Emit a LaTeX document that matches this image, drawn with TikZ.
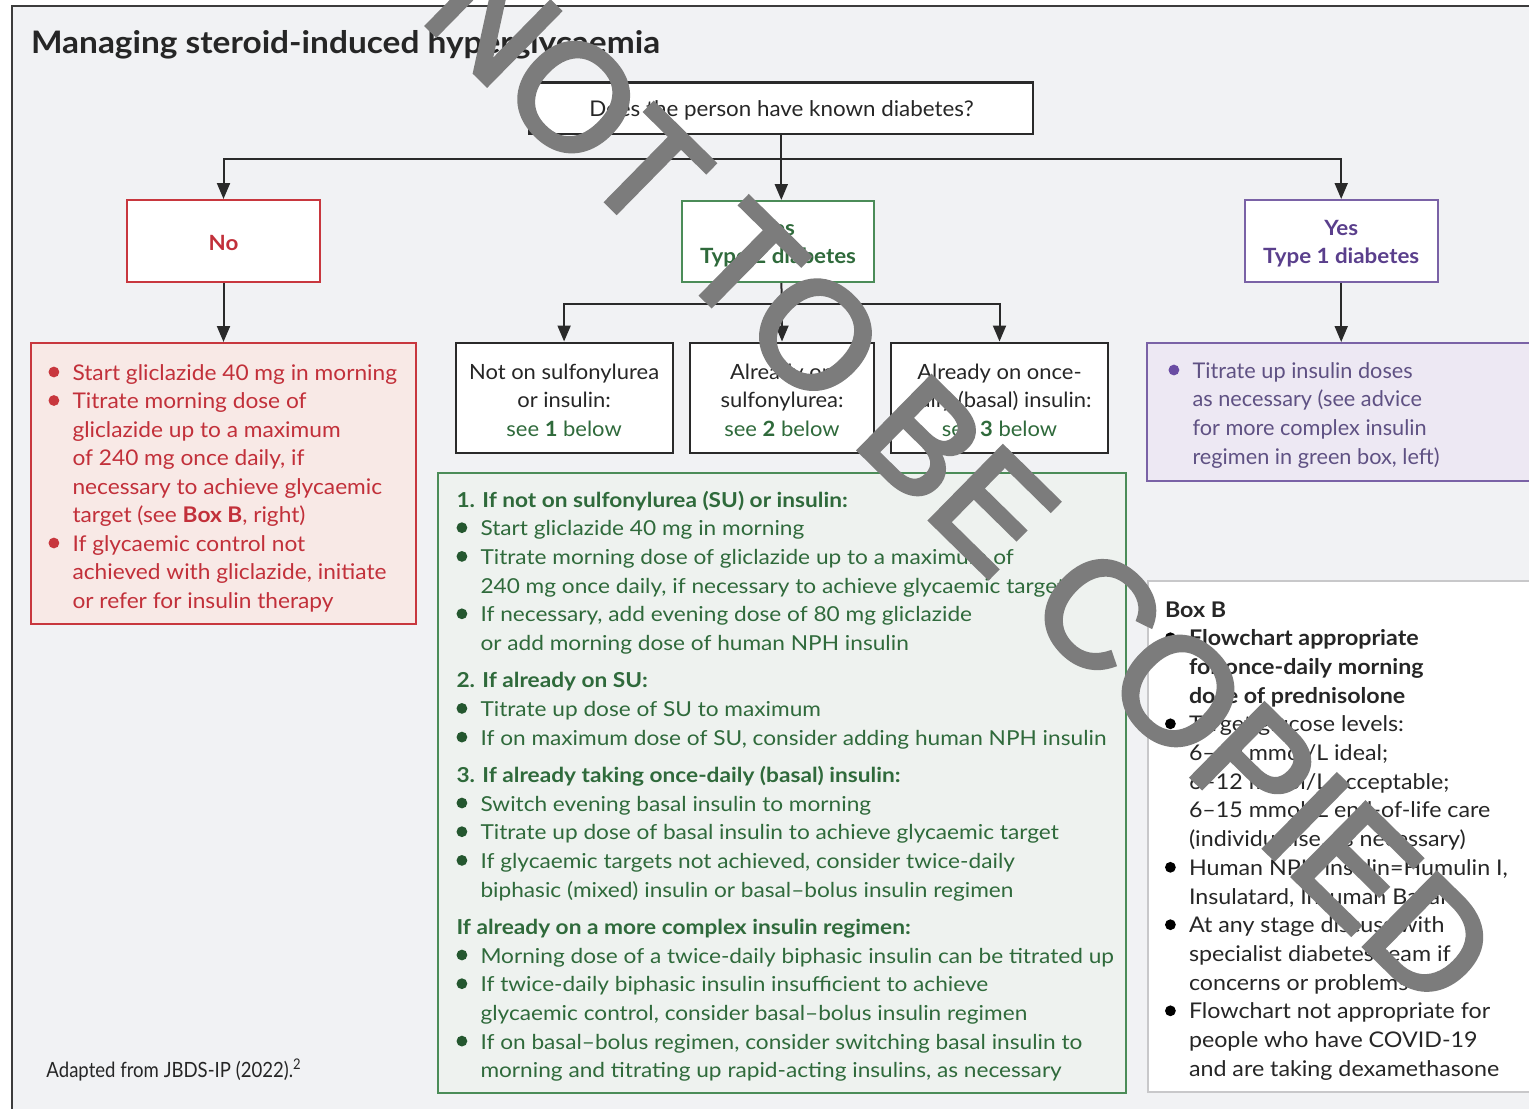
\documentclass[tikz,border=0pt]{standalone}
\usepackage{fontspec}
\setmainfont{Lato}
\newfontfamily\wmfont[FakeBold=3]{Liberation Sans}
\usepackage{graphicx}
\usetikzlibrary{arrows.meta}

\definecolor{bgc}{HTML}{F1F2F4}
\definecolor{framec}{HTML}{3C3C3C}
\definecolor{darkc}{HTML}{2A2A2A}
\definecolor{textc}{HTML}{262626}
\definecolor{redc}{HTML}{C8373E}
\definecolor{redtxt}{HTML}{C2303A}
\definecolor{redfill}{HTML}{F8E9E6}
\definecolor{greenc}{HTML}{4B8C58}
\definecolor{greentxt}{HTML}{2F6A3B}
\definecolor{greenfill}{HTML}{EEF2EF}
\definecolor{greenbul}{HTML}{24572F}
\definecolor{purc}{HTML}{7A62A6}
\definecolor{purtxt}{HTML}{5F5183}
\definecolor{purhead}{HTML}{5A3F8C}
\definecolor{purfill}{HTML}{EDE8F3}
\definecolor{purbul}{HTML}{6A4CA3}
\definecolor{greyb}{HTML}{C8C8CA}
\definecolor{wmc}{HTML}{7C7C7C}

\newlength\fitlen
\newcommand\fitto[2]{\settowidth\fitlen{#2}\edef\fitf{\fpeval{(#1)/(\the\fitlen)}}}
\newcommand\X[1]{\scalebox{\fitf}[1]{#1}}
\newcommand\fitx[2]{\fitto{#1}{#2}\X{#2}}
\newcommand\bul[1]{\makebox[12pt][l]{\tikz[baseline=0pt]\fill[#1] (2.7pt,4pt) circle[radius=2.7pt];}}

\begin{document}
\begin{tikzpicture}[x=0.5pt,y=-0.5pt,
  box/.style={draw, line width=1pt, inner sep=0pt, fill=white},
  txt/.style={inner sep=0pt, outer sep=0pt},
  conn/.style={draw=darkc, line width=1pt, -{Triangle[length=8pt,width=6.5pt]}},
  link/.style={draw=darkc, line width=1pt}]
\useasboundingbox (0,0) rectangle (1529,1108);
\clip (0,0) rectangle (1529,1108);
\fill[white] (0,0) rectangle (1529,1108);
\draw[fill=bgc, draw=framec, line width=1pt] (12,6) rectangle (1560,1130);

% title
\node[txt, anchor=base west, font=\bfseries\fontsize{15.5}{18}\selectfont, text=textc] (title) at (31,53)
  {\fitx{314.5pt}{Managing steroid-induced hyperglycaemia}};

% question
\node[box, draw=darkc, line width=1.2pt, minimum width=251.75pt, minimum height=25.85pt] (q) at (781.3,108.2) {};
\node[txt, anchor=base, font=\fontsize{10.8}{13}\selectfont, text=textc] (qt) at (781.5,116.7)
  {\fitx{192.2pt}{Does the person have known diabetes?}};

% level 1 boxes
\node[box, draw=redc, minimum width=96.5pt, minimum height=41pt] (no) at (223.5,241) {};
\node[txt, anchor=base, font=\bfseries\fontsize{10.5}{14}\selectfont, text=redtxt] (not) at (223.5,250)
  {\fitto{78pt}{Type 1 diabetes}\X{No}};

\node[box, draw=greenc, minimum width=96.4pt, minimum height=40.5pt] (t2) at (778,241.5) {};
\node[txt, anchor=base, font=\bfseries\fontsize{10.5}{14}\selectfont, text=greentxt] (t2t) at (778,235)
  {\fitto{78pt}{Type 2 diabetes}\begin{tabular}[t]{@{}c@{}}\X{Yes}\\\X{Type 2 diabetes}\end{tabular}};

\node[box, draw=purc, minimum width=96.5pt, minimum height=41pt] (t1) at (1341.2,241) {};
\node[txt, anchor=base, font=\bfseries\fontsize{10.5}{14}\selectfont, text=purhead] (t1t) at (1341.2,235)
  {\fitto{78pt}{Type 1 diabetes}\begin{tabular}[t]{@{}c@{}}\X{Yes}\\\X{Type 1 diabetes}\end{tabular}};

% red box
\node[box, draw=redc, fill=redfill, minimum width=192.5pt, minimum height=140.5pt] (red) at (223.5,483.5) {};
\node[txt, anchor=base west, font=\fontsize{10.8}{14.25}\selectfont, text=redtxt] (redt) at (48.5,380)
  {\fitto{162.3pt}{Start gliclazide 40 mg in morning}%
  \begin{tabular}[t]{@{}l@{}l@{}}
  \bul{redc}&\X{Start gliclazide 40 mg in morning}\\
  \bul{redc}&\X{Titrate morning dose of}\\
  &\X{gliclazide up to a maximum}\\
  &\X{of 240 mg once daily, if}\\
  &\X{necessary to achieve glycaemic}\\
  &\X{target (see \textbf{Box B}, right)}\\
  \bul{redc}&\X{If glycaemic control not}\\
  &\X{achieved with gliclazide, initiate}\\
  &\X{or refer for insulin therapy}
  \end{tabular}};

% type 2 sub boxes
\node[box, draw=darkc, minimum width=108.4pt, minimum height=55pt] (s1) at (564.1,397.5) {};
\node[box, draw=darkc, minimum width=91.6pt, minimum height=55pt] (s2) at (782,397.5) {};
\node[box, draw=darkc, minimum width=108.5pt, minimum height=55pt] (s3) at (999.5,397.5) {};
\node[txt, anchor=base, font=\fontsize{10.5}{14.25}\selectfont, text=textc] (s1t) at (564.1,379)
  {\fitto{95pt}{Not on sulfonylurea}\begin{tabular}[t]{@{}c@{}}\X{Not on sulfonylurea}\\\X{or insulin:}\\\X{\color{greentxt}see \textbf{1} below}\end{tabular}};
\node[txt, anchor=base, font=\fontsize{10.5}{14.25}\selectfont, text=textc] (s2t) at (782,379)
  {\fitto{95pt}{Not on sulfonylurea}\begin{tabular}[t]{@{}c@{}}\X{Already on}\\\X{sulfonylurea:}\\\X{\color{greentxt}see \textbf{2} below}\end{tabular}};
\node[txt, anchor=base, font=\fontsize{10.5}{14.25}\selectfont, text=textc] (s3t) at (999.5,379)
  {\fitto{95pt}{Not on sulfonylurea}\begin{tabular}[t]{@{}c@{}}\X{Already on once-}\\\X{daily (basal) insulin:}\\\X{\color{greentxt}see \textbf{3} below}\end{tabular}};

% green box
\node[box, draw=greenc, fill=greenfill, minimum width=344pt, minimum height=309.8pt] (green) at (782,783.2) {};
\node[txt, anchor=base west, font=\fontsize{10.3}{14.35}\selectfont, text=greentxt] (greent) at (456.5,507)
  {\fitto{313pt}{If on maximum dose of SU, consider adding human NPH insulin}%
  \begin{tabular}[t]{@{}l@{}l@{}}
  \multicolumn{2}{@{}l@{}}{\X{\bfseries 1. If not on sulfonylurea (SU) or insulin:}}\\
  \bul{greenbul}&\X{Start gliclazide 40 mg in morning}\\
  \bul{greenbul}&\X{Titrate morning dose of gliclazide up to a maximum of}\\
  &\X{240 mg once daily, if necessary to achieve glycaemic target}\\
  \bul{greenbul}&\X{If necessary, add evening dose of 80 mg gliclazide}\\
  &\X{or add morning dose of human NPH insulin}\\[4.25pt]
  \multicolumn{2}{@{}l@{}}{\X{\bfseries 2. If already on SU:}}\\
  \bul{greenbul}&\X{Titrate up dose of SU to maximum}\\
  \bul{greenbul}&\X{If on maximum dose of SU, consider adding human NPH insulin}\\[4.25pt]
  \multicolumn{2}{@{}l@{}}{\X{\bfseries 3. If already taking once-daily (basal) insulin:}}\\
  \bul{greenbul}&\X{Switch evening basal insulin to morning}\\
  \bul{greenbul}&\X{Titrate up dose of basal insulin to achieve glycaemic target}\\
  \bul{greenbul}&\X{If glycaemic targets not achieved, consider twice-daily}\\
  &\X{biphasic (mixed) insulin or basal–bolus insulin regimen}\\[4.25pt]
  \multicolumn{2}{@{}l@{}}{\X{\bfseries If already on a more complex insulin regimen:}}\\
  \bul{greenbul}&\X{Morning dose of a twice-daily biphasic insulin can be titrated up}\\
  \bul{greenbul}&\X{If twice-daily biphasic insulin insufficient to achieve}\\
  &\X{glycaemic control, consider basal–bolus insulin regimen}\\
  \bul{greenbul}&\X{If on basal–bolus regimen, consider switching basal insulin to}\\
  &\X{morning and titrating up rapid-acting insulins, as necessary}
  \end{tabular}};

% purple box
\node[box, draw=purc, fill=purfill, minimum width=199pt, minimum height=69pt] (pur) at (1346,412) {};
\node[txt, anchor=base west, font=\fontsize{10.8}{14.35}\selectfont, text=purtxt] (purt) at (1168.5,378)
  {\fitto{123.5pt}{regimen in green box, left)}%
  \begin{tabular}[t]{@{}l@{}l@{}}
  \bul{purbul}&\X{Titrate up insulin doses}\\
  &\X{as necessary (see advice}\\
  &\X{for more complex insulin}\\
  &\X{regimen in green box, left)}
  \end{tabular}};

% box B
\node[box, draw=greyb, line width=0.8pt, minimum width=198.5pt, minimum height=255.5pt] (boxb) at (1346.5,836.5) {};
\node[txt, anchor=base west, font=\fontsize{10.8}{14.35}\selectfont, text=textc] (boxbt) at (1165,617)
  {\fitto{159.4pt}{Human NPH insulin=Humulin I,}%
  \begin{tabular}[t]{@{}l@{}l@{}}
  \multicolumn{2}{@{}l@{}}{\X{\bfseries Box B}}\\
  \bul{black}&\X{\bfseries Flowchart appropriate}\\
  &\X{\bfseries for once-daily morning}\\
  &\X{\bfseries dose of prednisolone}\\
  \bul{black}&\X{Target glucose levels:}\\
  &\X{6–10 mmol/L ideal;}\\
  &\X{6–12 mmol/L acceptable;}\\
  &\X{6–15 mmol/L end-of-life care}\\
  &\X{(individualise, as necessary)}\\
  \bul{black}&\X{Human NPH insulin=Humulin I,}\\
  &\X{Insulatard, Insuman Basal}\\
  \bul{black}&\X{At any stage discuss with}\\
  &\X{specialist diabetes team if}\\
  &\X{concerns or problems}\\
  \bul{black}&\X{Flowchart not appropriate for}\\
  &\X{people who have COVID-19}\\
  &\X{and are taking dexamethasone}
  \end{tabular}};

% footnote
\node[txt, anchor=base west, font=\fontsize{10.5}{13}\selectfont, text=textc] (foot) at (46.5,1077)
  {\fitx{127.5pt}{Adapted from JBDS-IP (2022).\textsuperscript{2}}};

% connectors
\coordinate (hl) at (782,159);
\coordinate (sl) at (782,304);
\draw[conn] (q.south) -- (q.south |- t2.north);
\draw[conn] (hl) -| (no.north);
\draw[conn] (hl) -| (t1.north);
\draw[conn] (no.south) -- (no.south |- red.north);
\draw[conn] (t1.south) -- (t1.south |- pur.north);
\draw[link] (q.south |- t2.south) -- (sl);
\draw[conn] (sl) -| (s1.north);
\draw[conn] (sl) -- (sl |- s2.north);
\draw[conn] (sl) -| (s3.north);

% watermark
\node[txt, rotate=-44.5, text=wmc, font=\wmfont\fontsize{75}{80}\selectfont] (wm) at (962,479) {NOT TO BE COPIED};
\end{tikzpicture}
\end{document}
